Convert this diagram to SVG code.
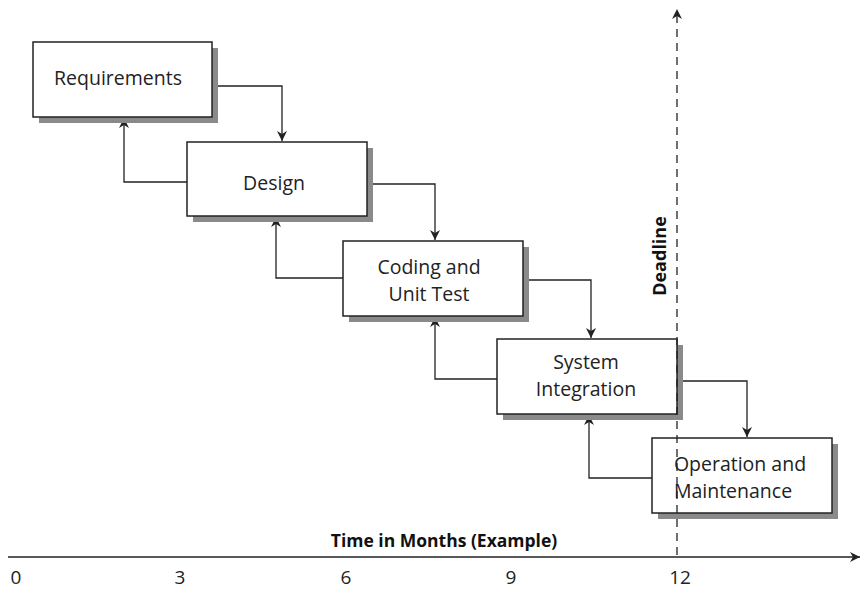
<svg xmlns="http://www.w3.org/2000/svg" width="866" height="589" viewBox="0 0 866 589">
<style>
.box{fill:#fff;stroke:#222;stroke-width:1.5}
.sh{fill:#8a8a8a}
.lbl{font-family:"Open Sans","Liberation Sans",sans-serif;font-size:19.5px;fill:#222;text-anchor:middle}
.conn{fill:none;stroke:#222;stroke-width:1.3}
.bold{font-family:"Open Sans","Liberation Sans",sans-serif;font-weight:bold;font-size:17.5px;fill:#111;text-anchor:middle}
.tick{font-family:"Open Sans","Liberation Sans",sans-serif;font-size:19px;fill:#222;text-anchor:middle}
</style>
<defs>
<marker id="ah" viewBox="0 0 10 10" refX="10" refY="5" markerWidth="10" markerHeight="10" markerUnits="userSpaceOnUse" orient="auto">
<path d="M0,0 L10,5 L0,10 L3,5 z" fill="#222"/>
</marker>
</defs>
<rect width="866" height="589" fill="#fff"/>
<g id="connectors">
<path class="conn" d="M212,86 H282 V141" marker-end="url(#ah)"/>
<path class="conn" d="M187,182 H124 V118" marker-end="url(#ah)"/>
<path class="conn" d="M367,184 H435 V240" marker-end="url(#ah)"/>
<path class="conn" d="M343,278 H276 V217" marker-end="url(#ah)"/>
<path class="conn" d="M523,280 H591 V338" marker-end="url(#ah)"/>
<path class="conn" d="M497,379 H435 V317" marker-end="url(#ah)"/>
<path class="conn" d="M677,381 H747 V437" marker-end="url(#ah)"/>
<path class="conn" d="M652,478 H589 V415" marker-end="url(#ah)"/>
</g>
<g id="requirements">
<rect class="sh" x="39" y="48" width="179" height="75"/>
<rect class="box" x="33" y="42" width="179" height="75"/>
<text class="lbl" x="118" y="85">Requirements</text>
</g>
<g id="design">
<rect class="sh" x="193" y="148" width="180" height="74"/>
<rect class="box" x="187" y="142" width="180" height="74"/>
<text class="lbl" x="274" y="190">Design</text>
</g>
<g id="coding">
<rect class="sh" x="349" y="247" width="180" height="75"/>
<rect class="box" x="343" y="241" width="180" height="75"/>
<text class="lbl" x="429" y="274">Coding and</text>
<text class="lbl" x="429" y="301">Unit Test</text>
</g>
<g id="integration">
<rect class="sh" x="503" y="345" width="180" height="75"/>
<rect class="box" x="497" y="339" width="180" height="75"/>
<text class="lbl" x="586" y="369">System</text>
<text class="lbl" x="586" y="396">Integration</text>
</g>
<g id="operation">
<rect class="sh" x="658" y="444" width="180" height="75"/>
<rect class="box" x="652" y="438" width="180" height="75"/>
<text class="lbl" x="740" y="471">Operation and</text>
<text class="lbl" x="733" y="498">Maintenance</text>
</g>
<g id="deadline">
<line x1="677" y1="555" x2="677" y2="9" stroke="#222" stroke-width="1.3" stroke-dasharray="8,6" marker-end="url(#ah)"/>
<text class="bold" transform="translate(666,256) rotate(-90)" style="font-size:18px">Deadline</text>
</g>
<g id="axis">
<line x1="8" y1="557" x2="860" y2="557" stroke="#222" stroke-width="1.5" marker-end="url(#ah)"/>
<text class="bold" x="444" y="547">Time in Months (Example)</text>
<text class="tick" x="16" y="584">0</text>
<text class="tick" x="180" y="584">3</text>
<text class="tick" x="346" y="584">6</text>
<text class="tick" x="511" y="584">9</text>
<text class="tick" x="680" y="584">12</text>
</g>
</svg>
